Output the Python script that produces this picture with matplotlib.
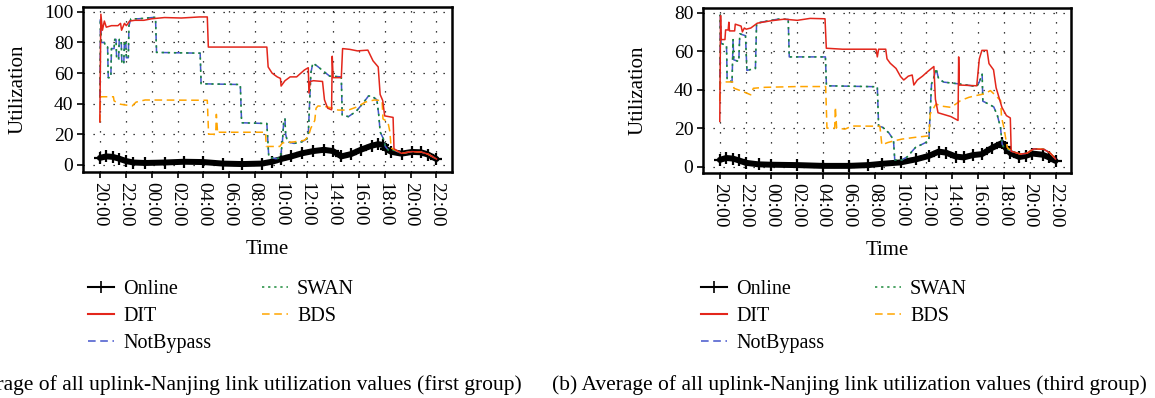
import numpy as np
import matplotlib
matplotlib.use("Agg")
import matplotlib.pyplot as plt
from matplotlib.lines import Line2D

plt.rcParams['font.family'] = ['Liberation Serif', 'DejaVu Serif']

# --- hours after 20:00 on day one ---
tick_pos = np.arange(0, 27, 2)
tick_labels = ["20:00", "22:00", "00:00", "02:00", "04:00", "06:00", "08:00",
               "10:00", "12:00", "14:00", "16:00", "18:00", "20:00", "22:00"]

# --- first group (left) ---
a_online_t = [0, 0.5, 1.0, 1.5, 2.0, 2.6, 3.5, 5, 6.5, 8, 9.5, 11, 12.5, 13.3, 14.0, 14.8, 15.6, 16.5,
              17.3, 18.0, 18.65, 19.4, 20.2, 21.0, 21.5, 21.9, 22.1, 22.5, 23.3, 24.1, 24.8, 25.35, 26.0]
a_online_v = [4.5, 5.5, 5.2, 4.0, 2.5, 1.5, 1.2, 1.5, 2.0, 1.8, 0.8, 0.5, 0.8, 2.0, 3.8, 5.5, 7.5, 9.0,
              9.8, 9.0, 5.5, 7.0, 10.0, 12.5, 13.5, 13.0, 10.5, 8.5, 7.3, 8.4, 8.2, 6.7, 3.8]

a_dit_t = [0.0, 0.08, 0.2, 0.35, 0.5, 0.9, 1.4, 1.6, 1.68, 1.9, 2.05, 2.3, 2.7, 3.4, 4.0, 5.0, 6.3, 7.7,
           8.3, 8.38, 12.9, 13.0, 13.3, 13.7, 13.95, 14.0, 14.3, 14.7, 15.2, 15.8, 16.1, 16.15, 16.25,
           16.5, 17.2, 17.35, 17.6, 17.9, 17.95, 18.02, 18.65, 18.75, 19.3, 19.9, 20.7, 21.1, 21.5,
           21.65, 21.85, 22.0, 22.65, 22.72, 23.3, 24.1, 24.8, 25.35, 26.0]
a_dit_v = [28, 98.5, 88, 94, 90, 91, 91, 92.5, 88, 92.5, 91, 94, 94.5, 94.5, 95.5, 96.3, 96, 96.7,
           96.7, 77, 77, 64, 60, 57.5, 56.5, 51.5, 55, 57.5, 57.5, 62, 63.5, 47, 54.5,
           55, 54.5, 42.5, 37, 36, 71, 57, 57, 76, 75.5, 74.5, 75, 68, 64,
           46, 42, 32, 31, 10.5, 7.5, 8.6, 8.4, 7.0, 3.8]

a_nb_t = [0.0, 0.05, 0.12, 0.35, 0.45, 0.6, 0.65, 0.85, 0.9, 1.1, 1.15, 1.25, 1.3, 1.45, 1.5, 1.65,
          1.7, 1.85, 1.9, 2.0, 2.05, 2.2, 2.25, 2.4, 3.0, 4.3, 4.38, 7.75, 7.82, 10.85, 10.95, 12.9,
          13.05, 13.6, 13.95, 14.1, 14.2, 14.3, 14.35, 14.5, 15.0, 15.6, 16.0, 16.1, 16.2, 16.3,
          16.45, 16.8, 17.3, 17.75, 18.65, 18.72, 19.2, 19.8, 20.3, 20.75, 21.0, 21.4, 21.55, 21.65,
          21.9, 22.05, 22.3, 22.75, 23.3, 24.1, 24.8, 25.35, 26.0]
a_nb_v = [44, 95, 80, 80, 77, 77, 57, 57, 76, 76, 82, 82, 69, 69, 82, 82,
          66, 66, 81, 81, 70, 70, 91, 95.5, 95.5, 96.5, 73.5, 73, 53, 52.5, 27.5, 27,
          5, 4, 4.5, 15, 28, 30, 20, 15, 14, 15, 17, 20, 40, 60,
          66.5, 64.5, 61, 58, 57.5, 32.5, 31.5, 35, 40, 45, 45, 42.5, 32, 21.5,
          17, 12, 9.5, 9.5, 7.5, 8.6, 8.4, 7.0, 3.8]

a_swan_t = [0.0, 0.05, 0.12, 0.35, 0.45, 0.6, 0.65, 0.85, 0.9, 1.1, 1.15, 1.25, 1.3, 1.45, 1.5, 1.65,
            1.7, 1.85, 1.9, 2.0, 2.05, 2.2, 2.25, 2.4, 3.0, 4.3, 4.38, 7.75, 7.82, 10.85, 10.95, 12.9,
            13.05, 13.6, 13.95, 14.1, 14.2, 14.3, 14.35, 14.5, 15.0, 15.6, 16.0, 16.1, 16.2, 16.3,
            16.45, 16.8, 17.3, 17.75, 18.65, 18.72, 19.2, 19.8, 20.3, 20.75, 21.0, 21.4, 21.55, 21.65,
            21.9, 22.05, 22.3, 22.75, 23.3, 24.1, 24.8, 25.35, 26.0]
a_swan_v = [44, 95, 80, 80, 77, 77, 57, 57, 76, 76, 82, 82, 69, 69, 82, 82,
            66, 66, 81, 81, 70, 70, 91, 95.5, 95.5, 96.5, 73.5, 73, 53, 52.5, 27.5, 27,
            5, 4, 4.5, 15, 28, 30, 20, 15, 14, 15, 17, 20, 40, 60,
            66.5, 64.5, 61, 58, 57.5, 32.5, 31.5, 35, 40, 45, 45, 42.5, 32, 21.5,
            17, 12, 9.5, 9.5, 7.5, 8.6, 8.4, 7.0, 3.8]

a_bds_t = [0.0, 0.05, 1.05, 1.1, 1.6, 2.5, 2.8, 3.5, 6.0, 8.3, 8.4, 8.95, 9.0, 9.1, 9.2, 12.8, 12.85,
           13.9, 14.1, 15.0, 15.8, 16.1, 16.3, 16.6, 16.7, 16.85, 17.5, 18.0, 18.4, 19.2, 19.9, 20.5,
           21.2, 21.8, 21.87, 22.25, 22.4, 22.5, 23.3, 24.1, 24.8, 25.35, 26.0]
a_bds_v = [28, 44.5, 44.5, 41.8, 39.6, 38.5, 41, 42.4, 42.3, 42.2, 20, 20, 33, 20.5, 21.3, 21.3, 12,
           12, 14.3, 15, 16, 18.5, 24, 29, 37, 38.5, 38, 37, 35.8, 35.8, 38, 41,
           42.4, 42, 30, 28, 21.7, 11, 7.5, 8.6, 8.4, 7.0, 3.8]

# --- third group (right) ---
b_online_t = [0, 0.5, 1.0, 1.5, 2.0, 3.0, 4.0, 6.0, 8.0, 10.0, 11.5, 12.6, 14.0, 15.2, 16.2, 16.95,
              17.5, 18.3, 18.9, 19.6, 20.3, 21.1, 21.87, 22.1, 22.5, 23.2, 23.7, 24.2, 25.0, 25.5, 26.0]
b_online_v = [3.5, 4.5, 4.2, 3.2, 2.0, 1.2, 1.0, 0.8, 0.4, 0.4, 0.8, 1.5, 2.2, 3.8, 5.6, 7.8,
              7.3, 5.2, 4.8, 6.0, 6.5, 9.8, 12.3, 10.0, 7.0, 5.0, 5.6, 6.8, 6.2, 4.8, 3.0]

b_dit_t = [0.0, 0.06, 0.1, 0.4, 0.45, 0.65, 0.7, 0.75, 1.15, 1.2, 1.65, 1.75, 1.9, 2.05, 2.4, 2.9,
           3.3, 4.0, 5.0, 6.0, 7.0, 8.15, 8.25, 9.5, 12.1, 12.2, 12.3, 12.85, 12.95, 13.2, 13.65,
           14.0, 14.25, 14.6, 14.9, 15.03, 15.3, 15.7, 16.1, 16.58, 16.7, 16.9, 17.9, 18.45, 18.5,
           18.55, 19.9, 20.1, 20.3, 20.7, 20.85, 21.2, 21.4, 21.85, 22.2, 22.5, 22.57, 23.3, 23.8,
           24.3, 25.1, 25.6, 26.0]
b_dit_v = [23.5, 78.5, 66, 66, 71, 71, 75, 70.5, 70.5, 74, 73, 70, 72, 71.4, 72, 74.5,
           75, 75.8, 76.6, 76, 77, 76.8, 61.5, 61, 61, 57, 61, 61, 56, 53.7, 51,
           46.8, 45, 47, 47.6, 42.4, 45, 47, 49.4, 52, 35, 28, 26, 24, 57,
           42.4, 42, 56, 60.4, 60.4, 53.5, 50.3, 41, 30.8, 26.5, 25.3, 8, 6.5, 7,
           9.2, 9, 7, 4]

b_nb_t = [0.0, 0.04, 0.1, 0.52, 0.57, 0.95, 1.03, 1.08, 1.47, 1.55, 1.99, 2.1, 2.76, 2.85, 3.5, 4.5,
          5.3, 5.38, 8.18, 8.26, 12.2, 12.3, 12.6, 13.1, 13.45, 13.55, 14.1, 14.5, 15.16, 15.7,
          16.19, 16.3, 16.4, 16.55, 16.75, 16.95, 17.35, 18.5, 19.9, 20.1, 20.32, 20.37, 20.8,
          21.22, 21.5, 21.74, 21.87, 22.0, 22.6, 23.3, 23.8, 24.3, 25.1, 25.6, 26.0]
b_nb_v = [40, 78.8, 64, 63, 45, 44, 66, 55.5, 54.6, 69, 68, 50, 51, 74.5, 75.4, 76.6,
          76.5, 57, 57, 42, 41.5, 21, 20.5, 17.5, 14, 3.5, 3.5, 5, 10, 11.7,
          13.4, 29, 43, 45.6, 51, 45.6, 43.9, 43, 41.6, 44, 48, 34, 32.6,
          31, 26.5, 20.4, 11.7, 10, 8, 6.5, 7, 9.2, 9, 7, 4]

b_swan_t = [0.0, 0.04, 0.1, 0.52, 0.57, 0.95, 1.03, 1.08, 1.47, 1.55, 1.99, 2.1, 2.76, 2.85, 3.5, 4.5,
            5.3, 5.38, 8.18, 8.26, 12.2, 12.3, 12.6, 13.1, 13.45, 13.55, 14.1, 14.5, 15.16, 15.7,
            16.19, 16.3, 16.4, 16.55, 16.75, 16.95, 17.35, 18.5, 19.9, 20.1, 20.32, 20.37, 20.8,
            21.22, 21.5, 21.74, 21.87, 22.0, 22.6, 23.3, 23.8, 24.3, 25.1, 25.6, 26.0]
b_swan_v = [40, 78.8, 64, 63, 45, 44, 66, 55.5, 54.6, 69, 68, 50, 51, 74.5, 75.4, 76.6,
            76.5, 57, 57, 42, 41.5, 21, 20.5, 17.5, 14, 3.5, 3.5, 5, 10, 11.7,
            13.4, 29, 43, 45.6, 51, 45.6, 43.9, 43, 41.6, 44, 48, 34, 32.6,
            31, 26.5, 20.4, 11.7, 10, 8, 6.5, 7, 9.2, 9, 7, 4]

b_bds_t = [0.0, 0.05, 1.0, 1.1, 1.8, 2.4, 2.6, 3.5, 6.0, 8.2, 8.3, 8.9, 8.95, 9.05, 9.7, 10.25, 12.4,
           12.55, 13.0, 13.5, 14.1, 15.1, 16.2, 16.3, 16.75, 17.1, 17.9, 18.3, 18.64, 19.29, 19.9,
           20.5, 20.96, 21.35, 21.75, 21.82, 22.0, 22.26, 22.6, 23.3, 23.8, 24.3, 25.1, 25.6, 26.0]
b_bds_v = [34, 44, 44, 40.7, 39, 37.3, 40.7, 41.2, 41.6, 41.6, 20, 20, 31, 20, 19.5, 21.1, 21,
           11.3, 12.5, 13.4, 14.3, 15.2, 16, 27.4, 32.6, 31.5, 30.8, 32.6, 34.3, 36, 37,
           37.8, 39.5, 37, 34.3, 25.6, 20.4, 10, 8, 6.5, 7, 9.2, 9, 7, 4]

C_DIT = '#e3261b'
C_NB = '#4455cc'
C_SWAN = '#1b8a3a'
C_BDS = '#ffa500'

fig = plt.figure(figsize=(11.55, 3.98), dpi=100)
ax1 = fig.add_axes([83 / 1155, 1 - 172 / 398, 369 / 1155, 165 / 398])
ax2 = fig.add_axes([703 / 1155, 1 - 173 / 398, 368 / 1155, 165 / 398])


def draw(ax, on_t, on_v, dit_t, dit_v, nb_t, nb_v, sw_t, sw_v, bds_t, bds_v, ylim, yticks):
    # thick band for Online, '+' at each sample
    ax.plot(on_t, on_v, color='black', lw=4.3, marker='+', ms=8, mew=1.6,
            solid_capstyle='round', zorder=2)
    ax.plot(nb_t, nb_v, color=C_NB, lw=1.1, ls=(0, (5, 3)), zorder=3)
    ax.plot(sw_t, sw_v, color=C_SWAN, lw=1.1, ls=(0, (1.5, 2.5)), zorder=3)
    ax.plot(bds_t, bds_v, color=C_BDS, lw=1.1, ls=(0, (5, 3)), zorder=3)
    ax.plot(dit_t, dit_v, color=C_DIT, lw=1.1, zorder=4)
    ax.set_xlim(-1.3, 27.2)
    ax.set_ylim(*ylim)
    ax.set_xticks(tick_pos)
    ax.set_xticklabels(tick_labels, rotation=270)
    ax.set_yticks(yticks)
    ax.tick_params(labelsize=14, length=4, width=1.2, direction='out', pad=3)
    ax.grid(True, color='black', lw=0.9, ls=(0, (1, 7)))
    for s in ax.spines.values():
        s.set_linewidth(1.8)
    ax.set_xlabel("Time", fontsize=15)
    ax.xaxis.set_label_coords(0.5, -0.41)
    ax.set_ylabel("Utilization", fontsize=15)
    ax.yaxis.set_label_coords(-0.15, 0.5)


draw(ax1, a_online_t, a_online_v, a_dit_t, a_dit_v, a_nb_t, a_nb_v, a_swan_t, a_swan_v,
     a_bds_t, a_bds_v, (-4.7, 103.2), [0, 20, 40, 60, 80, 100])
draw(ax2, b_online_t, b_online_v, b_dit_t, b_dit_v, b_nb_t, b_nb_v, b_swan_t, b_swan_v,
     b_bds_t, b_bds_v, (-3.3, 82.4), [0, 20, 40, 60, 80])

handles = [
    Line2D([], [], color='black', lw=1.5, marker='+', ms=8, mew=1.2),
    Line2D([], [], color=C_DIT, lw=1.5),
    Line2D([], [], color=C_NB, lw=1.1, ls=(0, (5, 3))),
    Line2D([], [], color=C_SWAN, lw=1.1, ls=(0, (1.5, 2.5))),
    Line2D([], [], color=C_BDS, lw=1.1, ls=(0, (5, 3))),
]
names = ["Online", "DIT", "NotBypass", "SWAN", "BDS"]

for x0 in (88 / 1155, 701 / 1155):
    fig.legend(handles, names, loc='upper left', bbox_to_anchor=(x0, 1 - 280 / 398),
               ncol=2, frameon=False, fontsize=14.5, handlelength=1.3, handletextpad=0.45,
               columnspacing=2.5, labelspacing=0.4, borderpad=0, borderaxespad=0)

fig.text(522 / 1155, 1 - 385 / 398,
         "(a) Average of all uplink-Nanjing link utilization values (first group)",
         ha='right', va='center', fontsize=15.5)
fig.text(552 / 1155, 1 - 385 / 398,
         "(b) Average of all uplink-Nanjing link utilization values (third group)",
         ha='left', va='center', fontsize=15.5)

fig.savefig("out.png", dpi=100)
